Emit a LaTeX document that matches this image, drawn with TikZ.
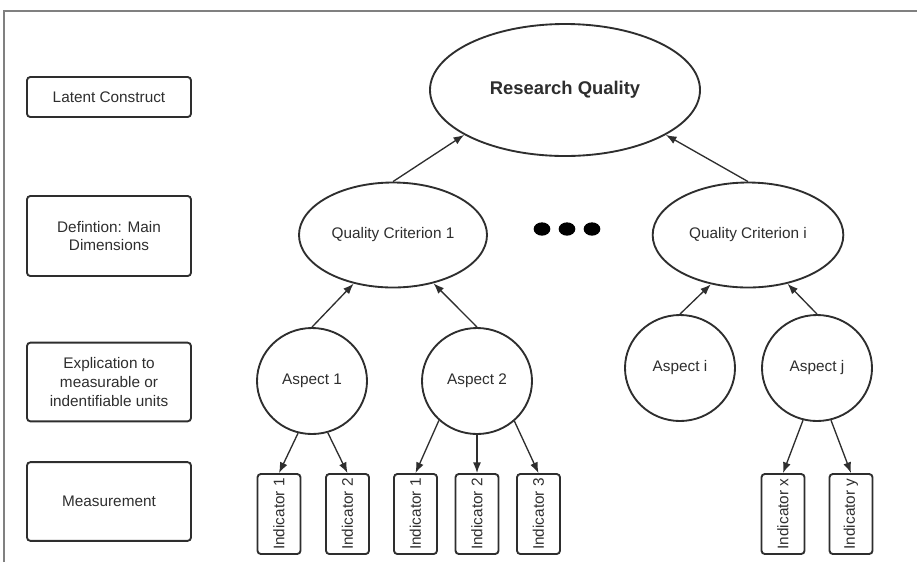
\documentclass[tikz,border=0pt]{standalone}
\usepackage{fontspec}
\setmainfont{Liberation Sans}
\usetikzlibrary{shapes.geometric,arrows.meta}
\definecolor{ink}{HTML}{2E2E2E}
\definecolor{framegray}{HTML}{808080}
\begin{document}
\begin{tikzpicture}[x=0.75pt,y=-0.75pt,
  every node/.style={text=ink, font=\fontsize{11.5}{13.9}\selectfont},
  lbox/.style={draw=ink, line width=1.4pt, rounded corners=2.5pt, minimum width=123pt, align=center, inner sep=0pt},
  oval/.style={ellipse, draw=ink, line width=1.4pt, inner sep=0pt, fill=white},
  indbox/.style={draw=ink, line width=1.4pt, rounded corners=2.5pt, minimum width=32.25pt, minimum height=60pt, inner sep=0pt},
  dotmark/.style={ellipse, fill=black, minimum width=12.5pt, minimum height=10pt, inner sep=0pt},
  conn/.style={draw=ink, line width=1pt, -{Latex[length=8pt,width=6pt]}}
]
\useasboundingbox (0,0) rectangle (917,562);
% frame
\draw[framegray, line width=0.8pt] (4,562) -- (4,11) -- (917,11);

% left labels
\node[lbox, minimum height=30pt] (l1) at (109,97) {Latent Construct};
\node[lbox, minimum height=60pt] (l2) at (109,236) {Defintion: Main\\Dimensions};
\node[lbox, minimum height=59pt] (l3) at (109,382) {Explication to\\measurable or\\indentifiable units};
\node[lbox, minimum height=59pt] (l4) at (109,501.5) {Measurement};

% top
\node[oval, minimum width=202.5pt, minimum height=99pt, font=\fontsize{13.8}{16}\selectfont\bfseries] (rq) at (565,90) {Research Quality};

% criteria
\node[oval, minimum width=141pt, minimum height=78.75pt] (qc1) at (393,235) {Quality Criterion 1};
\node[oval, minimum width=143pt, minimum height=78.75pt] (qci) at (748,235) {Quality Criterion i};

\node[dotmark] (d1) at (542,229) {};
\node[dotmark] (d2) at (567,229) {};
\node[dotmark] (d3) at (592,229) {};

% aspects
\node[oval, minimum width=82.5pt, minimum height=79.5pt] (a1) at (312,381) {Aspect 1};
\node[oval, minimum width=82.5pt, minimum height=79.5pt] (a2) at (477,381) {Aspect 2};
\node[oval, minimum width=82.5pt, minimum height=79.5pt] (ai) at (680,368) {Aspect i};
\node[oval, minimum width=82.5pt, minimum height=79.5pt] (aj) at (817,368) {Aspect j};

% indicators
\node[indbox] (i11) at (279,514) {\rotatebox{90}{Indicator 1}};
\node[indbox] (i12) at (347.5,514) {\rotatebox{90}{Indicator 2}};
\node[indbox] (i21) at (415.5,514) {\rotatebox{90}{Indicator 1}};
\node[indbox] (i22) at (477,514) {\rotatebox{90}{Indicator 2}};
\node[indbox] (i23) at (538.5,514) {\rotatebox{90}{Indicator 3}};
\node[indbox] (ix) at (783,514) {\rotatebox{90}{Indicator x}};
\node[indbox] (iy) at (851,514) {\rotatebox{90}{Indicator y}};

% connectors
\draw[conn] (qc1.north) -- (rq.204.5);
\draw[conn] (qci.north) -- (rq.336);
\draw[conn] (a1.north) -- (qc1.231);
\draw[conn] (a2.north) -- (qc1.310);
\draw[conn] (ai.north) -- (qci.233);
\draw[conn] (aj.north) -- (qci.309);
\draw[conn] (a1.255) -- (i11.north);
\draw[conn] (a1.287) -- (i12.north);
\draw[conn] (a2.226) -- (i21.north);
\draw[conn] (a2.south) -- (i22.north);
\draw[conn] (a2.313) -- (i23.north);
\draw[conn] (aj.255) -- (ix.north);
\draw[conn] (aj.285) -- (iy.north);
\end{tikzpicture}
\end{document}
